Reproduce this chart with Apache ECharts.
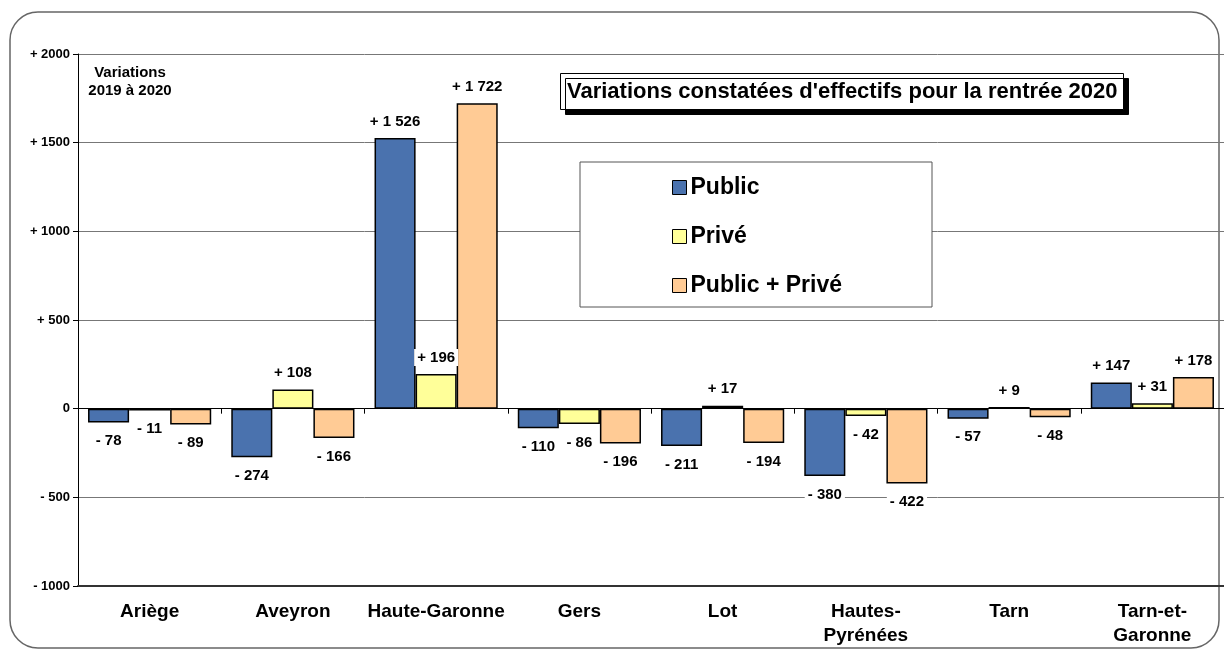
<!DOCTYPE html>
<html>
<head>
<meta charset="utf-8">
<script src="https://cdn.jsdelivr.net/npm/echarts@6/dist/echarts.min.js"></script>
<style>
  html, body { margin: 0; padding: 0; background: #fff; }
  #main { width: 1224px; height: 650px; }
</style>
</head>
<body>
<div id="main"></div>
<script>
// départements
const categories = ['Ariège', 'Aveyron', 'Haute-Garonne', 'Gers', 'Lot', 'Hautes-\nPyrénées', 'Tarn', 'Tarn-et-\nGaronne'];
const publicVals = [-78, -274, 1526, -110, -211, -380, -57, 147];
const priveVals = [-11, 108, 196, -86, 17, -42, 9, 31];
const totalVals = [-89, -166, 1722, -196, -194, -422, -48, 178];
const seriesNames = ['Public', 'Privé', 'Public + Privé'];
const yTicks = [-1000, -500, 0, 500, 1000, 1500, 2000];

const FONT = '"Liberation Sans", Arial, sans-serif';
const colors = ['#4a72ae', '#ffff99', '#ffcb95'];

const sign = v => (v > 0 ? '+ ' : v < 0 ? '- ' : '');
// étiquettes des barres : "+ 1 526" / "- 78"
const fmtBar = v => sign(v) + String(Math.abs(v)).replace(/\B(?=(\d{3})+(?!\d))/g, ' ');
// graduations : "+ 2000" / "- 500" / "0"
const fmtTick = v => (v === 0 ? '0' : sign(v) + Math.abs(v));

const mkSeries = (name, data, i) => ({
  name: name,
  type: 'bar',
  xAxisIndex: 0,
  barGap: '0%',
  barCategoryGap: '14%',
  itemStyle: { color: colors[i], borderColor: '#000', borderWidth: 1.5 },
  data: data.map(v => ({
    value: v,
    label: {
      show: true,
      position: v >= 0 ? 'top' : 'bottom',
      distance: v >= 0 ? 8 : 10,
      formatter: p => fmtBar(p.value),
      fontFamily: FONT,
      fontWeight: 'bold',
      fontSize: 15,
      color: '#000',
      backgroundColor: '#fff',
      padding: [1, 3]
    }
  }))
});

const chart = echarts.init(document.getElementById('main'));
chart.setOption({
  animation: false,
  backgroundColor: '#fff',
  textStyle: { fontFamily: FONT },
  grid: { left: 78, right: 0, top: 54, bottom: 64 },
  title: {
    text: "Variations constatées d'effectifs pour la rentrée 2020",
    left: 560, top: 73,
    padding: [8, 6, 7, 7],
    backgroundColor: '#fff',
    borderColor: '#000',
    borderWidth: 1,
    shadowColor: '#000',
    shadowOffsetX: 5,
    shadowOffsetY: 5,
    shadowBlur: 0,
    textStyle: { fontFamily: FONT, fontWeight: 'bold', fontSize: 22, color: '#000' }
  },
  legend: {
    orient: 'vertical',
    left: 667, top: 171,
    z: 20,
    icon: 'rect',
    itemWidth: 14, itemHeight: 14,
    itemGap: 26,
    data: seriesNames,
    itemStyle: { borderColor: '#000', borderWidth: 1 },
    textStyle: { fontFamily: FONT, fontWeight: 'bold', fontSize: 23, color: '#000', padding: [0, 0, 0, -1] }
  },
  graphic: [
    {
      type: 'rect', z: -10, silent: true,
      shape: { x: 10, y: 12, width: 1209, height: 636, r: 28 },
      style: { fill: 'none', stroke: '#666', lineWidth: 1.5 }
    },
    {
      type: 'rect', z: 1, silent: true,
      shape: { x: 580, y: 162, width: 352, height: 145 },
      style: { fill: '#fff', stroke: '#555', lineWidth: 1 }
    },
    {
      type: 'text', z: 10,
      x: 130, y: 64,
      style: {
        text: 'Variations\n2019 à 2020',
        align: 'center',
        fontFamily: FONT, fontWeight: 'bold', fontSize: 15, lineHeight: 18, fill: '#000'
      }
    }
  ],
  xAxis: [
    {
      type: 'category',
      data: categories,
      position: 'bottom',
      axisLine: { onZero: false, lineStyle: { color: '#333', width: 2 } },
      axisTick: { show: false },
      axisLabel: {
        interval: 0,
        fontFamily: FONT, fontWeight: 'bold', fontSize: 19, color: '#000',
        lineHeight: 24, margin: 14
      }
    },
    {
      type: 'category',
      data: categories,
      position: 'top',
      axisLine: { onZero: true, lineStyle: { color: '#000', width: 1 } },
      axisTick: { show: true, inside: true, length: 5, lineStyle: { color: '#000' } },
      axisLabel: { show: false }
    }
  ],
  yAxis: {
    type: 'value',
    min: yTicks[0],
    max: yTicks[yTicks.length - 1],
    interval: 500,
    axisLine: { show: true, lineStyle: { color: '#000', width: 1 } },
    axisTick: { show: true, length: 5, lineStyle: { color: '#000' } },
    axisLabel: {
      formatter: v => fmtTick(v),
      fontFamily: FONT, fontWeight: 'bold', fontSize: 13, color: '#000', margin: 8
    },
    splitLine: { show: true, lineStyle: { color: '#777', width: 1 } }
  },
  series: [
    mkSeries(seriesNames[0], publicVals, 0),
    mkSeries(seriesNames[1], priveVals, 1),
    mkSeries(seriesNames[2], totalVals, 2)
  ]
});
</script>
</body>
</html>
